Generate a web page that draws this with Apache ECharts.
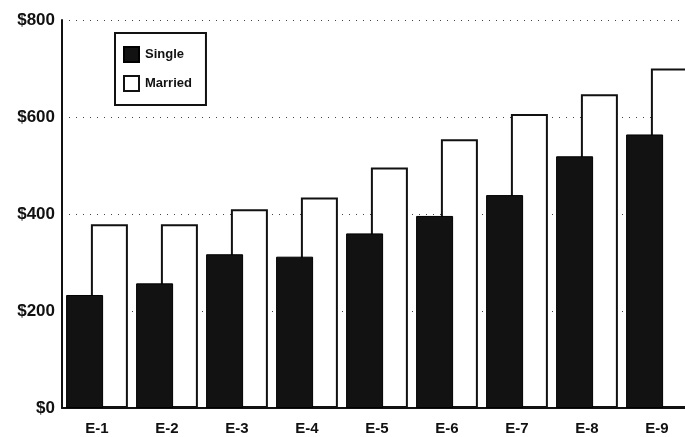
<!DOCTYPE html>
<html>
<head>
<meta charset="utf-8">
<script src="https://cdn.jsdelivr.net/npm/echarts@6/dist/echarts.min.js"></script>
<style>
html,body{margin:0;padding:0;background:#fff;}
#chart{width:685px;height:437px;}
</style>
</head>
<body>
<div id="chart"></div>
<script>
const categories = ['E-1','E-2','E-3','E-4','E-5','E-6','E-7','E-8','E-9'];
const singleValues = [233, 257, 317, 312, 360, 396, 439, 519, 564];
const marriedValues = [379, 379, 410, 434, 496, 554, 606, 647, 700];
const yTicks = { min: 0, max: 800, interval: 200 };

const chart = echarts.init(document.getElementById('chart'));
chart.setOption({
  animation: false,
  backgroundColor: '#fff',
  textStyle: { fontFamily: 'Liberation Sans, Arial, sans-serif' },
  grid: { left: 62, top: 20, width: 630, bottom: 29, containLabel: false, outerBoundsMode: 'none' },
  legend: {
    orient: 'vertical',
    left: 115, top: 33,
    padding: [13, 14, 13, 8],
    itemGap: 12,
    itemWidth: 15, itemHeight: 15,
    borderColor: '#111', borderWidth: 2,
    icon: 'rect',
    textStyle: { fontSize: 13, fontWeight: 'bold', color: '#111', padding: [0,0,0,1] },
    data: ['Single', 'Married']
  },
  xAxis: {
    type: 'category',
    data: categories,
    axisLine: { lineStyle: { color: '#111', width: 2 } },
    axisTick: { show: false },
    axisLabel: { color: '#111', fontSize: 15, fontWeight: 'bold', margin: 13 },
    splitLine: { show: false }
  },
  yAxis: {
    type: 'value',
    min: yTicks.min, max: yTicks.max, interval: yTicks.interval,
    axisLine: { show: true, lineStyle: { color: '#111', width: 2 } },
    axisTick: { show: false },
    axisLabel: { color: '#111', fontSize: 17, fontWeight: 'bold', margin: 7, formatter: v => '$' + v },
    splitLine: { show: true, lineStyle: { color: '#444', width: 1, type: [1, 6] } }
  },
  series: [
    {
      name: 'Single', type: 'bar', data: singleValues, z: 3,
      barWidth: 37, barGap: '-33%',
      itemStyle: { color: '#121212', borderColor: '#000', borderWidth: 1 }
    },
    {
      name: 'Married', type: 'bar', data: marriedValues, z: 2,
      barWidth: 37,
      itemStyle: { color: '#fff', borderColor: '#111', borderWidth: 2 }
    }
  ]
});
</script>
</body>
</html>
